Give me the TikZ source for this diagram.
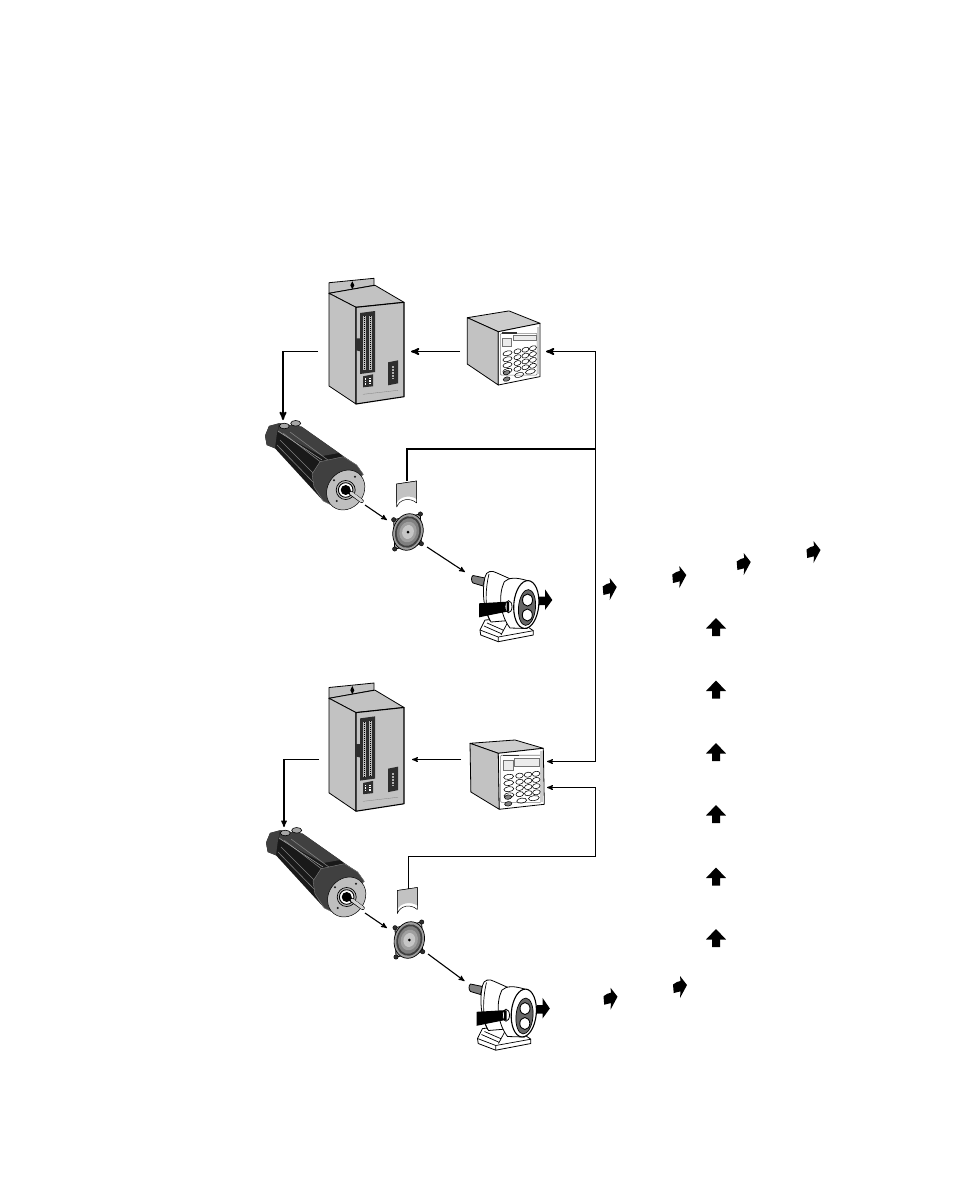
\documentclass[tikz,border=0pt]{standalone}
\usepackage{tikz}
\usetikzlibrary{arrows}
\definecolor{panelgray}{gray}{0.76}
\definecolor{topgray}{gray}{0.8}
\definecolor{slotdark}{gray}{0.18}
\definecolor{motordark}{gray}{0.1}
\definecolor{motormid}{gray}{0.25}
\tikzset{>=stealth',
  devline/.style={draw=black,line width=.8pt,line join=round},
  wirethick/.style={line width=1.8pt},
  wiremid/.style={line width=1.3pt},
  wirethin/.style={line width=1.1pt},
  arrowblob/.style={fill=black,draw=none},
  drivebox/.pic={
    \path[devline,fill=panelgray] (0,-10.6) -- (45,-15) -- (45,-8) -- (0,0) -- cycle;
    \fill[black] (23.3,-12) -- (25.3,-8) -- (23.3,-4) -- (21.3,-8) -- cycle;
    \path[devline,fill=panelgray] (0,0) -- (46,-8) -- (75,9) -- (27,14) -- cycle;
    \path[devline,fill=panelgray] (0,0) -- (27,14) -- (27,110.7) -- (0,92.7) -- cycle;
    \path[devline,fill=panelgray,line width=1.1pt] (27,14) -- (75,9) -- (75,103.4) -- (27,110.7) -- cycle;
    \fill[slotdark] (31,19.7) -- (46,17.7) -- (46,78.7) -- (31,80.7) -- cycle;
    \draw[gray!55,line width=3pt] (35.5,23) -- (35.5,77) (41.5,22.5) -- (41.5,76.5);
    \draw[black,densely dotted,line width=1pt] (35.5,23) -- (35.5,77) (41.5,22.5) -- (41.5,76.5);
    \fill[slotdark] (27,45) -- (31,45) -- (31,58) -- (27,57) -- cycle;
    \fill[slotdark] (34,83) -- (44,81) -- (44,93) -- (34,94) -- cycle;
    \draw[white,densely dotted,line width=1.4pt] (36.7,85) -- (36.7,91.5) (41,84.5) -- (41,91);
    \fill[slotdark] (59,69) -- (69,67) -- (69,90) -- (59,92) -- cycle;
    \draw[gray!60,densely dotted,line width=2pt] (64,73) -- (64,86);
    \draw[gray,line width=.3pt] (34,101) -- (69,97);
  },
  keypad/.pic={
    \path[devline,fill=topgray] (0,0) -- (1,0) -- (1,.03,1) -- (0,0,1) -- cycle;
    \path[devline,fill=panelgray] (0,0) -- (0,0,1) -- (0,.87,1) -- (0,1) -- cycle;
    \path[devline,fill=white] (0,0) -- (1,0) -- (1,1) -- (0,1) -- cycle;
    \draw[gray,line width=.6pt,rounded corners=1pt] (.05,.04) rectangle (.93,.96);
    \fill[gray!40] (.93,.05) rectangle (.97,.95);
    \fill[slotdark] (.1,.05) rectangle (.45,.075);
    \draw[gray!90!black,line width=.6pt,fill=gray!15] (.1,.14) rectangle (.32,.33) (.36,.12) rectangle (.9,.31);
    \foreach \v in {.44,.55,.66,.77} {
      \draw[black,line width=.55pt] (.22,\v) circle [x radius=.11,y radius=.045];
      \foreach \u in {.46,.65,.83}
        \draw[black,line width=.55pt] (\u,\v) circle [x radius=.085,y radius=.045];
    }
    \draw[black,line width=.55pt,fill=gray] (.2,.8) circle [x radius=.08,y radius=.04];
    \draw[black,line width=.55pt,fill=gray] (.2,.92) circle [x radius=.08,y radius=.04];
    \draw[black,line width=.55pt] (.5,.89) circle [x radius=.11,y radius=.045];
    \draw[black,line width=.55pt] (.77,.87) circle [x radius=.12,y radius=.045];
  },
  motorbody/.pic={
    \fill[motordark] (-1,2.7) -- (3,-7) -- (13,-9.7) -- (35.7,-6.3) -- (78.3,23.7) -- (90.7,32) -- (97.3,41.3) -- (64,71.3) -- (57.3,68) -- (9,15.3) -- (0.7,12) -- cycle;
    \fill[motormid] (-1,2.7) -- (3,-7) -- (13,-9.7) -- (10.7,2) -- (9,15.3) -- (0.7,12) -- cycle;
    \fill[motormid] (13,-9.7) -- (35.7,-6.3) -- (73,20) -- (56,23) -- (12,-1) -- cycle;
    \draw[gray,line width=.6pt] (17.3,.3) -- (67.3,38.7) (14,7) -- (50.7,43.7) (24,-1) -- (70,33) (11,12) -- (48,50);
    \draw[gray!70,line width=.5pt] (12,-2) -- (56,27);
    \path[draw=gray,line width=.4pt,fill=motormid] (46,41) -- (54,28.7) -- (77.3,23.7) -- (90.7,32) -- (97.3,41.3) -- (64,71.3) -- (57.3,68) -- (48,54) -- cycle;
    \draw[black,line width=.6pt,fill=gray!70] (18.3,-7) circle [x radius=5,y radius=2.8];
    \draw[black,line width=.6pt,fill=gray!70] (29.7,-9.7) circle [x radius=5,y radius=2.8];
    \draw[black,line width=.5pt,fill=gray!50] (79.7,57) circle [x radius=18,y radius=21,rotate=-37];
    \fill[motordark] (68,47.3) circle [radius=1.1] (70.7,68) circle [radius=1.1] (89,43.7) circle [radius=1.1] (93,66) circle [radius=1.1];
    \draw[black,line width=.7pt,fill=gray!50] (79.7,57) circle [radius=9.5];
    \draw[black,line width=.9pt,fill=white] (79.7,57) circle [radius=7.3];
    \fill[black] (79.7,57) circle [radius=5];
    \draw[black,line width=4pt,line cap=round] (81,57.5) -- (95.7,68);
    \draw[gray!35,line width=3pt,line cap=round] (85,60) -- (95.7,68);
  },
  couplingcap/.pic={
    \path[devline,fill=white,line width=.5pt] (0,0) -- (20,-3) -- (20,19) .. controls (13,13) and (3,15) .. (0,23) -- cycle;
    \fill[panelgray] (0,0) -- (20,-3) -- (20,15) .. controls (13,10.5) and (3,12.5) .. (0,19) -- cycle;
    \draw[black,line width=.5pt] (0,19) -- (0,0) -- (20,-3) -- (20,15);
  },
  sensordisc/.pic={
    \path[devline,fill=gray!65] (12.4,-18) -- (-14.3,-12.3) -- (-13.3,17) -- (13.4,11.7) -- cycle;
    \draw[black,line width=.4pt,fill=slotdark] (12.4,-18) circle [radius=2.2] (-14.3,-12.3) circle [radius=2.2] (-13.3,17) circle [radius=2.2] (13.4,11.7) circle [radius=2.2];
    \draw[black,line width=.7pt,fill=gray!75] (0,0) circle [x radius=18.5,y radius=15,rotate=75];
    \fill[black!75] (0,0) circle [x radius=16,y radius=12.8,rotate=75];
    \fill[gray] (0,0) circle [x radius=14,y radius=11,rotate=75];
    \fill[gray!75] (0,0) circle [x radius=10.5,y radius=8.5,rotate=75];
    \fill[gray!45] (0,0) circle [x radius=7,y radius=5.8,rotate=75];
    \fill[black] (0,0) circle [radius=1.5];
  },
  gearhead/.pic={
    \path[devline,fill=gray] (8,15.5) -- (20,18) -- (18,26) -- (8,23) .. controls (6,21) and (6,17) .. (8,15.5) -- cycle;
    \path[devline,fill=white] (20,60) -- (50,58) -- (68.3,70.7) -- (68.3,75) -- (33.3,81.7) -- (15.7,75) -- (15,70) -- cycle;
    \draw[black,line width=.7pt] (15,70) -- (33.3,77) -- (68.3,70.7) (33.3,77) -- (33.3,81.7) (22,63) -- (38,70) (19,66) -- (36,73.5) (44,60) -- (36,75);
    \path[devline,fill=white] (20,17) .. controls (21,11) and (27,10) .. (32,13) -- (50,21) -- (50,60) -- (26,62) .. controls (18,50) and (17,30) .. (20,17) -- cycle;
    \draw[black,line width=.7pt] (24,14) .. controls (20,30) and (20,50) .. (25,61);
    \path[devline,fill=white] (39.3,21.7) .. controls (44,17) and (52,17.5) .. (62,20.5) -- (62,68.5) -- (45,68) .. controls (35,55) and (33,35) .. (39.3,21.7) -- cycle;
    \draw[black,line width=1.1pt,fill=white] (61.3,44.5) circle [x radius=12.5,y radius=24,rotate=-5];
    \draw[black,line width=.7pt,fill=gray!80!black] (62,47.5) circle [x radius=8.5,y radius=18,rotate=-5];
    \draw[black,line width=.9pt,fill=white] (62.5,40) circle [x radius=5,y radius=6];
    \draw[black,line width=.9pt,fill=white] (62.3,55) circle [x radius=5,y radius=6];
    \fill[black] (14,43.3) -- (41.7,41.7) -- (41.7,51.7) -- (14,57.3) -- cycle;
    \draw[black,line width=.8pt,fill=white] (43.5,46.7) circle [x radius=3.5,y radius=6];
    \fill[black] (41.5,41.5) -- (44,42) -- (44,51.5) -- (41.5,52) -- cycle;
    \fill[black] (74,36.7) -- (80,36.7) -- (80,29.3) -- (87.3,40) -- (80,50) -- (80,45) -- (74,45) -- cycle;
  },
  slantarrow/.pic={
    \fill[arrowblob] (7,-2) -- (0,-11) -- (.5,-6) -- (-3,-5) -- (-7,-2.5) -- (-6.3,6) -- (.5,4.3) -- (0,11) -- cycle;
  },
  uparrow/.pic={
    \fill[arrowblob] (0,-9) -- (10,1.5) -- (4,1.5) -- (4,9) -- (-4,9) -- (-4,1.5) -- (-10,1.5) -- cycle;
  }
}
\begin{document}
\begin{tikzpicture}[x=1pt,y=-1pt]
  \useasboundingbox (0,0) rectangle (954,1202);

  \pic (drivea) at (329,293.3) {drivebox};
  \path (498.3,331.7) pic (keypada) [x={(41.7pt,8.4pt)},y={(0pt,-53.3pt)},z={(-31pt,14pt)}] {keypad};
  \pic (motora) at (266,433) {motorbody};
  \pic (capa) at (396.7,484) {couplingcap};
  \pic (sensora) at (408,532) {sensordisc};
  \pic (geara) at (465,560) {gearhead};

  \pic (driveb) [yscale=1.02] at (329,698.3) {drivebox};
  \path (498.3,753.3) pic (keypadb) [x={(45pt,5pt)},y={(1pt,-56pt)},z={(-28.3pt,10pt)}] {keypad};
  \pic (motorb) at (267,840) {motorbody};
  \pic (capb) at (397.3,890.5) {couplingcap};
  \pic (sensorb) at (409.3,940) {sensordisc};
  \pic (gearb) at (462.5,968.5) {gearhead};

  \coordinate (keyaout) at (460,351.5);
  \coordinate (driveain) at (411,351.5);
  \coordinate (driveaout) at (318,351.5);
  \coordinate (motorain) at (283,420);
  \coordinate (keyain) at (546,351.5);
  \coordinate (busa) at (595.5,351.5);
  \coordinate (busb) at (595.5,449);
  \coordinate (busc) at (595.5,761.5);
  \coordinate (capatop) at (407,481);
  \coordinate (keybin) at (547,761.5);
  \coordinate (motoraout) at (365,505);
  \coordinate (sensorain) at (387,520);
  \coordinate (sensoraout) at (427,547);
  \coordinate (gearain) at (465,572);

  \coordinate (keybout) at (461,759.5);
  \coordinate (drivebin) at (412,759.5);
  \coordinate (drivebout) at (319,759.5);
  \coordinate (motorbin) at (284,827);
  \coordinate (keybinb) at (547,787.5);
  \coordinate (busd) at (595.5,787.5);
  \coordinate (buse) at (595.5,856.5);
  \coordinate (capbtop) at (408.5,889);
  \coordinate (motorbout) at (365,913);
  \coordinate (sensorbin) at (387,928);
  \coordinate (sensorbout) at (428,954);
  \coordinate (gearbin) at (464.5,981);

  \draw[->,wirethick] (driveaout) -| (motorain);
  \draw[->,wirethick] (keyaout) -- (driveain);
  \draw[->,wirethick] (busa) -- (keyain);
  \draw[wirethin] (busa) -- (busc);
  \draw[wirethick] (busb) -| (capatop);
  \draw[->,wirethin] (busc) -- (keybin);
  \draw[->,wirethin] (motoraout) -- (sensorain);
  \draw[->,wirethin] (sensoraout) -- (gearain);

  \draw[->,wiremid] (drivebout) -| (motorbin);
  \draw[->,wirethin] (keybout) -- (drivebin);
  \draw[->,wirethin] (busd) -- (keybinb);
  \draw[wirethin] (busd) -- (buse) -| (capbtop);
  \draw[->,wirethin] (motorbout) -- (sensorbin);
  \draw[->,wirethin] (sensorbout) -- (gearbin);

  \pic (slanta) at (609.7,589) {slantarrow};
  \pic (slantb) at (679.3,577) {slantarrow};
  \pic (slantc) at (743.7,564) {slantarrow};
  \pic (slantd) at (813.5,552) {slantarrow};
  \pic (slante) at (610.5,998.7) {slantarrow};
  \pic (slantf) at (680,987) {slantarrow};

  \foreach \i/\ypos in {a/627,b/689.5,c/752,d/814,e/876.5,f/938}
    \pic (up\i) at (716,\ypos) {uparrow};
\end{tikzpicture}
\end{document}
